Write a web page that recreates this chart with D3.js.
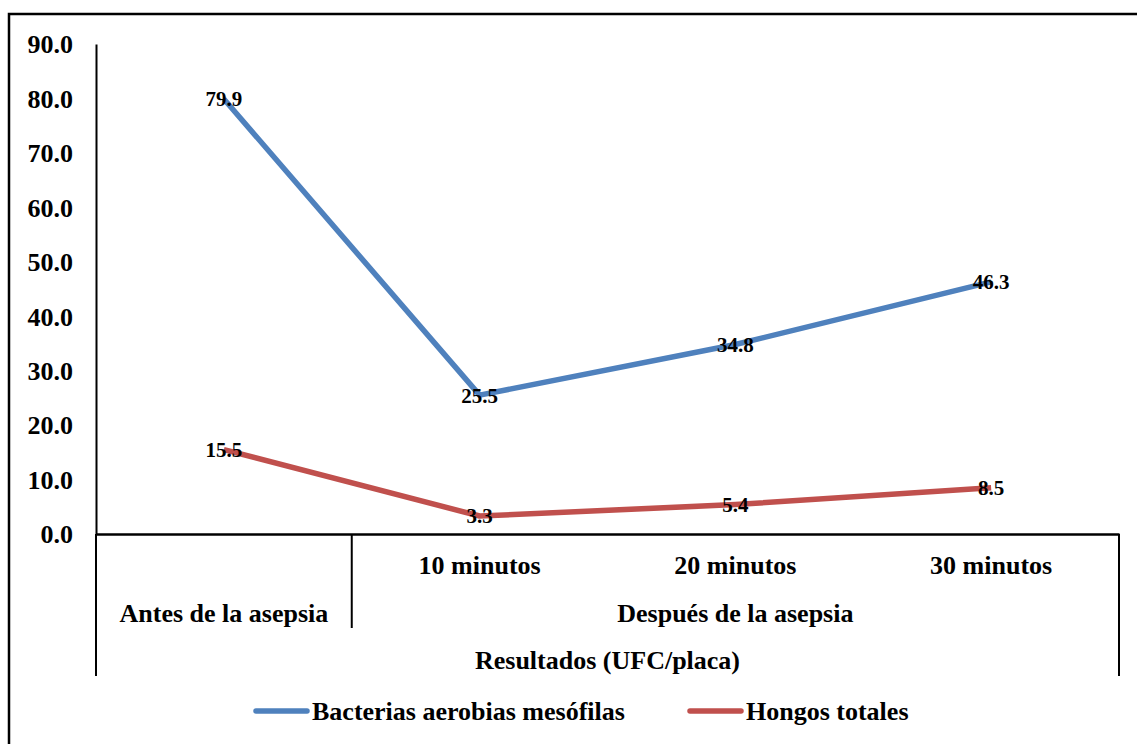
<!DOCTYPE html>
<html>
<head>
<meta charset="utf-8">
<script src="https://cdn.jsdelivr.net/npm/d3@7/dist/d3.min.js"></script>
<style>
  html, body { margin: 0; padding: 0; background: #fff; }
  svg { display: block; }
  text { font-family: "Liberation Serif", "Times New Roman", serif; font-weight: bold; fill: #000; }
</style>
</head>
<body>
<svg id="chart" width="1137" height="744"></svg>
<script>
// Sampling points (inner level of the category axis)
const categories = ["", "10 minutos", "20 minutos", "30 minutos"];
// Outer level groups: label and how many categories each spans
const groupLabels = ["Antes de la asepsia", "Después de la asepsia"];
const groupSpans = [1, 3];
const axisTitle = "Resultados (UFC/placa)";

const seriesNames = ["Bacterias aerobias mesófilas", "Hongos totales"];
const bacterias = [79.9, 25.5, 34.8, 46.3];
const hongos = [15.5, 3.3, 5.4, 8.5];
const seriesColors = ["#4F81BD", "#C0504D"];

const yTicks = [0, 10, 20, 30, 40, 50, 60, 70, 80, 90];

const svg = d3.select("#chart");

// Outer frame
svg.append("rect")
  .attr("x", 9).attr("y", 14)
  .attr("width", 1140).attr("height", 760)
  .attr("fill", "none").attr("stroke", "#000").attr("stroke-width", 2.5);

const plotLeft = 96, plotRight = 1119, plotTop = 44, plotBottom = 534;

const x = d3.scaleBand().domain(d3.range(categories.length)).range([plotLeft, plotRight]);
const y = d3.scaleLinear().domain([0, 90]).range([plotBottom, plotTop]);

// Y axis
const yAxis = d3.axisLeft(y).tickValues(yTicks).tickSize(0).tickPadding(23)
  .tickFormat(d3.format(".1f"));
const gy = svg.append("g").attr("transform", `translate(${plotLeft},0)`).call(yAxis);
gy.select(".domain").attr("stroke", "#000").attr("stroke-width", 2);
gy.selectAll("text")
  .attr("font-size", 26)
  .attr("font-family", "Liberation Serif, Times New Roman, serif")
  .attr("font-weight", "bold")
  .attr("fill", "#000")
  .attr("dy", "0.34em");

// X axis baseline
const xAxis = d3.axisBottom(x).tickSize(0).tickFormat(i => categories[i]).tickPadding(18);
const gx = svg.append("g").attr("transform", `translate(0,${plotBottom})`).call(xAxis);
gx.select(".domain").attr("stroke", "#000").attr("stroke-width", 2.5);
gx.selectAll("text")
  .attr("font-size", 26)
  .attr("font-family", "Liberation Serif, Times New Roman, serif")
  .attr("font-weight", "bold")
  .attr("fill", "#000")
  .attr("y", 31)
  .attr("dy", "0.35em");

// Multi-level category frame lines
const axisLines = svg.append("g").attr("stroke", "#000").attr("stroke-width", 2);
axisLines.append("line").attr("x1", plotLeft).attr("x2", plotLeft).attr("y1", plotBottom).attr("y2", 676);
axisLines.append("line").attr("x1", plotRight).attr("x2", plotRight).attr("y1", plotBottom).attr("y2", 676);

let startIdx = 0;
groupSpans.forEach((span, gi) => {
  const x0 = x(startIdx);
  const x1 = x(startIdx + span - 1) + x.bandwidth();
  if (gi > 0) {
    axisLines.append("line").attr("x1", x0).attr("x2", x0).attr("y1", plotBottom).attr("y2", 628);
  }
  svg.append("text")
    .attr("x", (x0 + x1) / 2).attr("y", 613)
    .attr("text-anchor", "middle").attr("dy", "0.35em")
    .attr("font-size", 26)
    .text(groupLabels[gi]);
  startIdx += span;
});

svg.append("text")
  .attr("x", (plotLeft + plotRight) / 2).attr("y", 660)
  .attr("text-anchor", "middle").attr("dy", "0.35em")
  .attr("font-size", 26)
  .text(axisTitle);

// Series lines and value labels
const line = d3.line().x((d, i) => x(i) + x.bandwidth() / 2).y(d => y(d));
[bacterias, hongos].forEach((vals, si) => {
  svg.append("path")
    .datum(vals)
    .attr("d", line)
    .attr("fill", "none")
    .attr("stroke", seriesColors[si])
    .attr("stroke-width", 5.5)
    .attr("stroke-linejoin", "round");
});
[bacterias, hongos].forEach(vals => {
  svg.append("g").selectAll("text")
    .data(vals)
    .join("text")
    .attr("x", (d, i) => x(i) + x.bandwidth() / 2)
    .attr("y", d => y(d))
    .attr("dy", "0.35em")
    .attr("text-anchor", "middle")
    .attr("font-size", 21)
    .text(d => d3.format(".1f")(d));
});

// Legend
const legendItems = [
  { name: seriesNames[0], color: seriesColors[0], x: 256 },
  { name: seriesNames[1], color: seriesColors[1], x: 690 }
];
const lg = svg.append("g");
legendItems.forEach(it => {
  lg.append("line")
    .attr("x1", it.x).attr("x2", it.x + 51)
    .attr("y1", 711).attr("y2", 711)
    .attr("stroke", it.color).attr("stroke-width", 5.5)
    .attr("stroke-linecap", "round");
  lg.append("text")
    .attr("x", it.x + 56).attr("y", 711)
    .attr("dy", "0.35em")
    .attr("font-size", 26)
    .text(it.name);
});
</script>
</body>
</html>
